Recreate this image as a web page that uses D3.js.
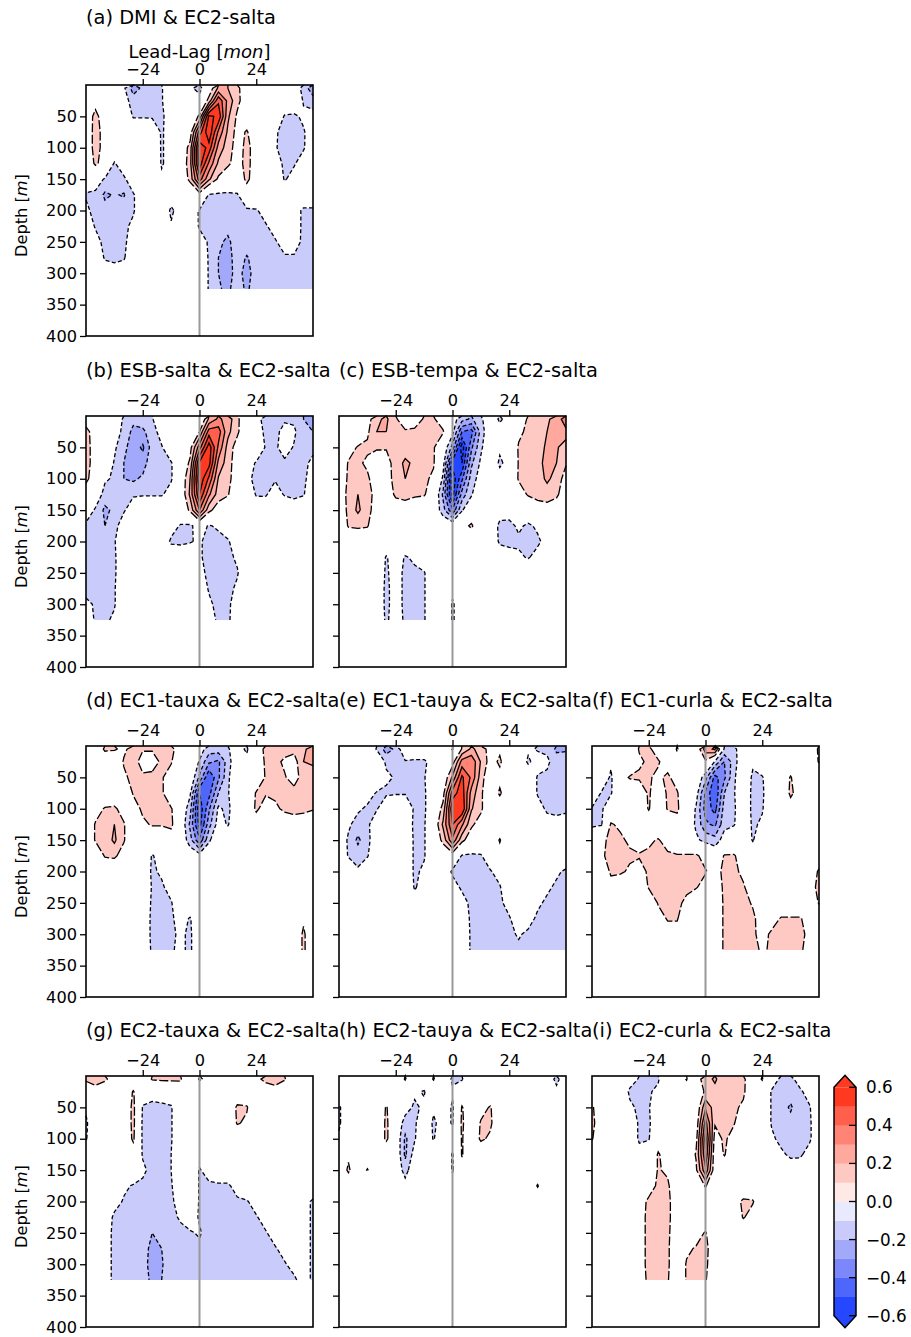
<!DOCTYPE html>
<html>
<head>
<meta charset="utf-8">
<script src="https://cdn.jsdelivr.net/npm/d3@7"></script>
<style>
  body { margin: 0; background: #fff; }
  svg text { font-family: "DejaVu Sans", Verdana, sans-serif; fill: #000; }
</style>
</head>
<body>
<svg id="chart" width="911" height="1337"></svg>
<script>
//	grid of the lag correlation: lead-lag in months, depth in m
var lags = d3.range(-48, 49, 4);
var depths = [5, 25, 50, 75, 100, 125, 150, 175, 200, 225, 250, 275, 300, 325];
var lagTicks = [-24, 0, 24];
var depthTicks = [50, 100, 150, 200, 250, 300, 350, 400];
var cbarTicks = [-0.6, -0.4, -0.2, 0, 0.2, 0.4, 0.6];
var levels = [0.1, 0.2, 0.3, 0.4, 0.5, 0.6];

var titles = [
	"(a) DMI & EC2-salta",
	"(b) ESB-salta & EC2-salta", "(c) ESB-tempa & EC2-salta",
	"(d) EC1-tauxa & EC2-salta", "(e) EC1-tauya & EC2-salta", "(f) EC1-curla & EC2-salta",
	"(g) EC2-tauxa & EC2-salta", "(h) EC2-tauya & EC2-salta", "(i) EC2-curla & EC2-salta"
];

//	correlation x100, one row per depth, one column per lag
var corrA = [
	[0,0,0,0,-8,-25,-18,-12,-11,0,0,-8,-14,2,22,20,12,4,0,0,0,0,0,-15,-26],
	[0,6,0,0,-5,-15,-13,-12,-11,0,0,-2,-5,14,48,27,13,3,0,0,0,0,0,-11,-16],
	[3,13,4,0,0,-11,-11,-11,-12,-4,0,0,12,62,58,22,8,3,0,0,0,-11,-12,-8,-5],
	[2,14,6,0,0,0,0,-3,-11,-6,0,4,45,68,38,18,6,11,2,0,-8,-15,-14,-11,-4],
	[2,14,6,0,0,0,0,-2,-11,-6,0,14,68,56,26,15,5,13,5,0,-9,-14,-13,-11,-3],
	[0,12,5,-11,-3,0,0,0,-11,-6,0,16,66,38,18,12,5,14,3,0,-5,-12,-11,-5,0],
	[-3,-5,-11,-13,-12,-3,0,0,-8,-3,0,13,45,22,8,2,0,13,2,0,0,-11,-6,0,0],
	[-11,-12,-22,-19,-21,-11,-3,0,0,-4,-2,-3,4,-11,-12,-12,-11,2,0,0,0,-3,0,0,0],
	[-8,-13,-16,-15,-15,-11,-3,0,0,-12,-5,-4,-11,-13,-15,-15,-14,-12,-11,-6,-3,-2,-5,-12,-12],
	[-3,-11,-14,-14,-12,-8,0,0,0,-9,-3,-3,-11,-12,-16,-17,-13,-12,-12,-11,-6,-3,-5,-12,-12],
	[0,-6,-13,-14,-12,-5,0,0,0,-3,0,0,-6,-11,-18,-22,-15,-14,-13,-12,-11,-6,-6,-12,-12],
	[0,-3,-11,-12,-11,-3,0,0,0,0,0,0,-2,-11,-20,-24,-15,-21,-15,-13,-12,-11,-11,-12,-12],
	[0,0,-5,-6,-5,0,0,0,0,0,0,0,0,-11,-20,-24,-16,-24,-15,-14,-13,-12,-12,-12,-12],
	[0,0,-3,-4,-3,0,0,0,0,0,0,0,0,-11,-19,-22,-15,-22,-14,-13,-12,-12,-12,-12,-12]
];
var corrB = [
	[5,0,0,0,-12,-18,-15,-11,0,0,0,0,-5,22,32,26,12,2,-8,-12,-13,-12,-12,-20,-25],
	[13,5,0,0,-15,-22,-22,-15,-5,0,0,0,10,45,45,23,12,0,-5,-12,-14,-5,-8,-18,-20],
	[14,5,0,-8,-18,-24,-32,-15,-11,0,0,6,36,66,38,16,5,0,0,-11,-12,-5,-11,-14,-12],
	[14,5,0,-11,-20,-25,-25,-13,-12,-11,0,12,62,64,27,15,3,-5,-11,-12,-11,-12,-14,-12,-8],
	[12,5,-8,-12,-20,-22,-18,-12,-12,-11,0,20,68,48,19,15,0,-8,-12,-13,-11,-13,-14,-12,-5],
	[5,0,-15,-16,-12,-11,-11,-11,-11,-6,0,22,60,32,15,11,0,0,-11,-11,-5,-11,-12,-11,0],
	[0,-12,-22,-18,-11,-5,0,0,0,0,0,12,40,13,4,0,0,0,-2,-3,0,0,-5,0,0],
	[-13,-16,-20,-13,-5,0,0,0,0,-5,-11,-12,-5,-11,-8,-5,0,0,0,0,0,0,0,0,0],
	[-16,-14,-13,-11,0,0,0,0,0,-12,-12,-11,-8,-15,-14,-11,-5,0,0,0,0,0,0,0,0],
	[-16,-13,-12,-12,0,0,0,0,0,0,-3,0,-8,-15,-16,-13,-8,0,0,0,0,0,0,0,0],
	[-15,-12,-16,-12,0,0,0,0,0,0,0,0,-6,-13,-16,-14,-11,0,0,0,0,0,0,0,0],
	[-13,-11,-15,-11,0,0,0,0,0,0,0,0,-3,-11,-15,-13,-8,0,0,0,0,0,0,0,0],
	[-8,-11,-12,-11,0,0,0,0,0,0,0,0,0,-8,-13,-12,-5,0,0,0,0,0,0,0,0],
	[-5,-11,-12,-8,0,0,0,0,0,0,0,0,0,-5,-12,-12,-3,0,0,0,0,0,0,0,0]
];
var corrC = [
	[0,0,0,5,18,22,11,5,5,11,11,5,-5,-16,-22,-12,-2,-12,-5,5,11,12,18,25,35],
	[0,0,0,8,20,20,12,11,12,14,12,11,-6,-40,-44,-16,0,-5,0,8,12,14,20,22,28],
	[0,5,11,12,12,11,13,15,13,12,11,0,-24,-66,-32,-12,0,-8,0,11,12,15,22,22,12],
	[0,11,12,8,0,5,15,22,18,12,11,-5,-56,-60,-22,-8,0,-12,-6,11,14,16,24,20,11],
	[0,12,14,12,3,5,14,20,15,12,8,-12,-68,-42,-15,-5,0,-5,0,11,14,15,22,16,5],
	[0,14,20,15,5,3,12,13,12,11,3,-22,-64,-26,-11,0,0,0,0,5,11,13,15,12,3],
	[0,13,22,14,4,0,3,5,0,0,0,-16,-38,-11,-2,0,0,-4,-5,0,0,5,5,3,0],
	[0,11,12,11,0,0,0,0,0,0,0,0,0,5,12,0,0,-13,-13,-8,-12,-8,0,0,0],
	[0,0,0,0,0,0,0,0,0,0,0,0,0,0,0,0,0,-12,-13,-12,-14,-12,-6,0,0],
	[0,0,0,0,0,-11,-4,-11,-8,0,0,0,0,0,0,0,0,-2,-5,-8,-11,-6,0,0,0],
	[0,0,0,0,0,-12,-4,-13,-12,-11,0,0,0,0,0,0,0,0,0,0,0,0,0,0,0],
	[0,0,0,0,0,-13,-4,-13,-13,-11,0,0,-8,0,0,0,0,0,0,0,0,0,0,0,0],
	[0,0,0,0,0,-13,-4,-13,-12,-11,0,0,-11,-5,0,0,0,0,0,0,0,0,0,0,0],
	[0,0,0,0,0,-12,-4,-12,-12,-11,0,0,-11,-5,0,0,0,0,0,0,0,0,0,0,0]
];
var corrD = [
	[0,0,12,11,8,14,11,11,12,11,8,0,-5,-15,-15,-11,-5,-12,5,12,13,14,13,18,25],
	[0,0,0,0,11,15,5,5,12,11,0,0,-11,-28,-32,-15,0,-6,0,12,13,8,5,20,22],
	[0,0,0,0,8,13,12,13,11,5,0,0,-22,-50,-32,-12,0,0,0,11,12,11,5,15,14],
	[0,0,0,0,0,11,14,16,12,0,0,-8,-50,-44,-20,-11,0,0,11,11,12,13,14,13,12],
	[0,5,11,12,5,5,12,13,11,11,0,-16,-58,-32,-8,-13,0,0,12,5,8,12,13,12,11],
	[0,11,13,20,11,0,8,11,11,12,0,-22,-54,-24,-5,-11,0,0,3,0,0,3,5,5,0],
	[0,11,14,22,11,0,0,0,0,5,0,-16,-38,-12,0,0,0,0,0,0,0,0,0,0,0],
	[0,0,11,12,5,0,0,-11,-5,0,0,-2,-5,0,5,0,0,0,0,0,0,0,0,0,0],
	[0,0,0,0,0,0,0,-12,-8,0,0,0,0,0,0,0,0,0,0,0,0,0,0,0,0],
	[0,0,0,0,0,0,0,-11,-12,-5,0,0,0,0,0,0,0,0,0,0,0,0,0,0,0],
	[0,0,0,0,0,0,0,-12,-13,-11,0,0,0,0,0,0,0,0,0,0,0,0,0,0,0],
	[0,0,0,0,0,0,0,-13,-14,-12,-5,-11,0,0,0,0,0,0,0,0,0,0,0,8,0],
	[0,0,0,0,0,0,0,-13,-13,-12,-8,-12,0,0,0,0,0,0,0,0,0,0,0,12,0],
	[0,0,0,0,0,0,0,-12,-12,-11,-8,-12,0,0,0,0,0,0,0,0,0,0,0,12,0]
];
var corrE = [
	[0,0,0,0,-11,-25,-18,0,0,0,0,0,-11,11,22,16,5,8,0,0,-8,-11,-12,-22,-22],
	[0,0,0,0,0,-12,-11,-11,-12,-12,-5,0,5,34,38,19,5,12,0,0,-12,-5,-8,-15,-12],
	[0,0,0,0,0,-8,-11,-12,-12,-11,0,0,22,52,38,15,0,6,0,0,0,-11,-12,-12,-11],
	[0,0,0,-5,-11,-12,-11,-11,-12,-12,0,6,45,56,26,12,0,12,0,0,0,-11,-13,-14,-12],
	[0,0,-8,-12,-11,0,0,0,-12,-12,0,13,58,60,21,12,0,0,0,0,0,-5,-12,-13,-12],
	[0,-8,-15,-13,0,0,0,0,-13,-11,0,22,50,32,12,5,0,0,0,0,0,0,-5,-6,-5],
	[0,-12,-22,-14,0,0,0,0,-12,-11,0,13,38,13,3,0,0,11,0,0,0,0,0,0,0],
	[0,-11,-15,-11,0,0,0,0,-12,-11,0,0,3,-11,-12,-11,-2,5,0,0,0,0,0,0,0],
	[0,0,-8,0,0,0,0,0,-12,-8,0,0,-12,-14,-14,-13,-11,-5,0,0,0,0,0,-8,-12],
	[0,0,0,0,0,0,0,0,-11,-6,0,0,-5,-12,-15,-14,-12,-11,0,0,0,0,-8,-12,-13],
	[0,0,0,0,0,0,0,0,-6,0,0,0,0,-5,-13,-15,-14,-12,-6,0,0,-8,-12,-13,-13],
	[0,0,0,0,0,0,0,0,0,0,0,0,0,-3,-12,-15,-15,-13,-11,-4,-6,-12,-13,-14,-14],
	[0,0,0,0,0,0,0,0,0,0,0,0,0,0,-12,-14,-15,-14,-12,-9,-12,-12,-13,-14,-14],
	[0,0,0,0,0,0,0,0,0,0,0,0,0,0,-12,-13,-14,-14,-13,-12,-12,-12,-12,-13,-13]
];
var corrF = [
	[0,0,0,0,0,11,12,5,0,11,0,0,25,32,-12,-12,-5,0,0,0,0,0,0,0,12],
	[0,0,-8,0,0,8,12,11,5,6,0,0,8,-11,-30,-15,0,-8,0,0,0,0,0,0,11],
	[0,0,-12,5,11,12,11,8,12,5,0,0,-16,-44,-32,-12,0,-12,-11,0,0,11,0,0,0],
	[0,-11,-11,0,0,0,12,0,12,11,0,-5,-32,-50,-20,-11,0,-13,-12,0,0,12,5,0,0],
	[-11,-12,0,0,0,0,11,0,11,12,0,-11,-34,-44,-15,-12,0,-13,-11,0,0,5,0,0,0],
	[-12,-11,11,8,0,0,0,0,0,5,0,-12,-28,-32,-13,-11,0,-12,-8,0,0,0,0,0,0],
	[0,5,15,12,8,5,8,11,5,0,0,-8,-13,-16,-5,0,0,-11,0,0,0,0,0,0,0],
	[0,8,14,13,12,11,12,12,12,11,11,12,5,0,11,11,5,0,0,0,0,0,0,0,0],
	[0,0,12,12,8,5,12,13,12,13,12,12,11,5,13,12,8,0,0,0,0,0,0,0,12],
	[0,0,5,0,0,0,11,12,13,12,12,11,5,0,13,13,11,5,0,0,0,0,0,5,13],
	[0,0,0,0,0,0,0,11,12,12,8,0,0,0,12,13,13,9,3,0,0,0,0,0,11],
	[0,0,0,0,0,0,0,5,11,11,0,0,0,0,12,13,13,12,5,5,11,11,11,5,0],
	[0,0,0,0,0,0,0,0,5,5,0,0,0,0,12,12,13,12,6,12,12,12,12,8,0],
	[0,0,0,0,0,0,0,0,0,0,0,0,0,0,12,12,12,12,9,11,12,12,12,5,0]
];
var corrG = [
	[11,12,12,5,0,0,0,11,12,12,11,0,-11,-8,0,0,0,0,8,12,12,11,0,0,0],
	[5,8,0,0,0,11,-3,-5,-5,-3,5,0,0,0,0,0,0,0,0,5,8,0,0,0,0],
	[-8,0,0,-8,0,13,-11,-13,-12,-11,0,0,0,0,0,0,12,11,0,0,0,0,0,0,0],
	[-12,0,0,0,0,13,-12,-13,-12,-11,0,0,0,0,0,0,11,8,0,0,0,0,0,0,0],
	[-11,0,0,0,0,12,-12,-15,-12,-11,0,0,0,0,0,0,0,0,0,0,0,0,0,0,0],
	[0,0,0,0,0,3,-11,-14,-12,-10,0,0,-5,0,0,0,0,0,0,0,0,0,0,0,0],
	[0,0,0,0,0,0,-8,-13,-12,-10,-3,0,-11,-5,0,0,0,0,0,0,0,8,0,0,0],
	[0,0,0,-5,-8,-11,-12,-13,-12,-11,-2,0,-11,-12,-12,-12,-5,0,0,0,0,0,0,0,0],
	[0,0,0,-6,-11,-12,-13,-14,-13,-12,-5,0,-11,-13,-14,-13,-12,-11,-5,0,0,0,0,-5,-12],
	[0,0,-3,-12,-12,-13,-13,-15,-14,-12,-9,-5,-11,-13,-15,-14,-13,-12,-11,-5,0,0,0,-5,-12],
	[0,0,-6,-12,-12,-14,-16,-20,-18,-13,-12,-11,-9,-14,-15,-14,-13,-12,-12,-11,-5,0,0,-5,-12],
	[0,0,-6,-12,-12,-14,-17,-22,-20,-14,-12,-12,-12,-14,-15,-14,-13,-12,-12,-12,-11,-6,0,-5,-12],
	[0,0,-6,-12,-12,-14,-17,-23,-21,-14,-12,-12,-12,-14,-14,-13,-13,-12,-12,-12,-12,-11,-6,-5,-12],
	[0,0,-6,-12,-12,-13,-16,-22,-20,-13,-12,-12,-12,-13,-13,-13,-12,-12,-12,-12,-12,-12,-12,-5,-12]
];
var corrH = [
	[0,0,0,0,0,0,0,11,0,0,11,0,-12,-11,0,0,0,0,0,0,0,0,-5,-12,-5],
	[0,0,0,0,0,0,0,0,-8,-11,0,0,-8,0,0,0,0,0,0,0,0,0,0,-8,0],
	[-12,0,0,0,0,11,0,-5,-12,-8,-8,0,-12,11,0,6,11,0,0,0,0,0,0,0,0],
	[-12,0,0,0,0,12,0,-15,-12,0,-12,-5,-11,12,0,11,12,0,0,0,0,0,0,0,0],
	[-8,0,0,0,0,12,0,-22,-11,0,-11,0,-5,11,0,12,8,0,0,0,0,0,0,0,0],
	[0,8,0,0,0,0,0,-22,-5,0,0,0,-11,11,0,0,0,0,0,0,0,0,0,0,0],
	[0,12,0,-11,0,0,0,-15,0,0,0,0,-11,5,0,0,0,0,0,0,0,0,0,0,0],
	[0,0,0,0,0,0,0,-5,0,0,0,0,-5,0,0,0,0,0,0,0,0,11,0,0,0],
	[0,0,0,0,0,0,0,0,0,0,0,0,0,0,0,0,0,0,0,0,0,0,0,0,0],
	[0,0,0,0,0,0,0,0,0,0,0,0,0,0,0,0,0,0,0,0,0,0,0,0,0],
	[0,0,0,0,0,0,0,0,0,0,0,0,0,0,0,0,0,0,0,0,0,0,0,0,0],
	[0,0,0,0,0,0,0,0,0,0,0,0,0,0,0,0,0,0,0,0,0,0,0,0,0],
	[0,0,0,0,0,0,0,0,0,0,0,0,0,0,0,0,0,0,0,0,0,0,0,0,0],
	[0,0,0,0,0,0,0,0,0,0,0,0,0,0,0,0,0,0,0,0,0,0,0,0,0]
];
var corrI = [
	[0,0,0,0,-5,-11,-12,-11,0,0,-11,5,15,22,12,15,12,2,11,-5,-12,-13,-5,0,0],
	[0,0,0,0,-12,-12,-11,-8,0,0,0,0,12,16,11,20,12,0,0,-11,-13,-14,-12,-5,0],
	[12,0,0,0,-8,-12,-11,0,0,0,0,0,28,15,12,12,8,0,0,-11,-14,-22,-11,-11,0],
	[12,5,0,0,0,-12,-12,0,0,0,0,2,44,11,12,11,0,0,0,-11,-14,-15,-13,-12,0],
	[11,0,0,0,0,-12,-11,5,0,0,0,6,54,5,12,5,0,0,0,-8,-13,-14,-13,-12,0],
	[0,0,0,0,0,-5,0,11,5,0,0,11,48,2,11,0,0,0,0,0,-8,-12,-12,-5,0],
	[0,0,0,0,0,0,0,11,8,0,0,8,38,2,0,0,0,0,0,0,0,-4,-3,0,0],
	[0,0,0,0,0,0,5,12,12,0,0,0,11,0,0,0,0,0,0,0,0,0,0,0,0],
	[0,0,0,0,0,5,12,13,12,5,0,0,0,0,0,5,12,11,0,0,0,0,0,0,0],
	[0,0,0,0,0,5,13,13,12,5,0,0,0,0,0,0,11,5,0,0,0,0,0,0,0],
	[0,0,0,0,0,5,13,13,12,3,0,5,11,0,0,0,0,0,0,0,0,0,0,0,0],
	[0,0,0,0,0,5,13,13,12,0,8,11,12,5,0,0,0,0,0,0,0,0,0,0,0],
	[0,0,0,0,0,5,13,13,12,0,11,12,12,3,0,0,0,0,0,0,0,0,0,0,0],
	[0,0,0,0,0,5,12,12,11,0,11,12,11,0,0,0,0,0,0,0,0,0,0,0,0]
];
var corr = [corrA, corrB, corrC, corrD, corrE, corrF, corrG, corrH, corrI];
var panelCol = [0, 0, 1, 0, 1, 2, 0, 1, 2];
var panelRow = [0, 1, 1, 2, 2, 2, 3, 3, 3];

//	colours of the bands, from -0.6 up to 0.6 (step 0.1)
var bandColors = ["#2447ff", "#4f66fd", "#7b87fb", "#a3a9fa", "#c9ccfb", "#e9eafd",
	"#ffe9e7", "#ffc9c3", "#ffa89e", "#ff8475", "#ff5f4b", "#ff3a20"];
//	filled colours for |r| >= level (below 0.1 is left white)
var posColors = ["#ffc9c3", "#ffa89e", "#ff8475", "#ff5f4b", "#ff3a20", "#ff3a20"];
var negColors = ["#c9ccfb", "#a3a9fa", "#7b87fb", "#4f66fd", "#2447ff", "#2447ff"];

var svg = d3.select("#chart");
var colLeft = [86, 339, 592], rowTop = [85, 416, 746, 1076];
var W = 227, H = 251;
var nx = lags.length, ny = depths.length;
var lagOf = d3.scaleLinear().domain([0, nx - 1]).range([lags[0], lags[nx - 1]]);
var depthOf = d3.scaleLinear().domain([-0.5].concat(d3.range(ny))).range([0].concat(depths));
var contours = d3.contours().size([nx, ny]);
var fmt = d3.format("d");

function drawPanel(k) {
	var x0 = colLeft[panelCol[k]], y0 = rowTop[panelRow[k]];
	var x = d3.scaleLinear().domain([-48, 48]).range([x0, x0 + W]);
	var y = d3.scaleLinear().domain([0, 400]).range([y0, y0 + H]);

	//	grid coordinate -> pixel
	function pt(px, py) {
		var i = Math.max(0, Math.min(nx - 1, px - 0.5));
		var j = Math.max(-0.5, Math.min(ny - 1, py - 0.5));
		return [x(lagOf(i)), y(depthOf(j))];
	}
	var path = d3.geoPath(d3.geoTransform({
		point: function(px, py) { var p = pt(px, py); this.stream.point(p[0], p[1]); }
	}));
	//	contour lines without the parts that run on the edge of the data
	function linePath(mp) {
		var d = "";
		mp.coordinates.forEach(function(poly) {
			poly.forEach(function(ring) {
				var pen = false;
				for (var m = 1; m < ring.length; m++) {
					var a = ring[m - 1], b = ring[m];
					var edge = (a[0] <= 0.5 && b[0] <= 0.5) || (a[0] >= nx - 0.5 && b[0] >= nx - 0.5) ||
						(a[1] === 0 && b[1] === 0) || (a[1] >= ny - 0.5 && b[1] >= ny - 0.5);
					if (edge) { pen = false; continue; }
					if (!pen) { var p = pt(a[0], a[1]); d += "M" + p[0].toFixed(2) + "," + p[1].toFixed(2); pen = true; }
					var q = pt(b[0], b[1]);
					d += "L" + q[0].toFixed(2) + "," + q[1].toFixed(2);
				}
			});
		});
		return d;
	}

	var vals = d3.merge(corr[k]).map(function(v) { return v / 100; });
	var neg = vals.map(function(v) { return -v; });

	var g = svg.append("g");
	levels.forEach(function(t, i) {
		g.append("path").attr("d", path(contours.contour(vals, t))).attr("fill", posColors[i]);
		g.append("path").attr("d", path(contours.contour(neg, t))).attr("fill", negColors[i]);
	});
	levels.forEach(function(t, i) {
		g.append("path").attr("d", linePath(contours.contour(vals, t)))
			.attr("fill", "none").attr("stroke", "#000").attr("stroke-width", 1.3)
			.attr("stroke-dasharray", i === 0 ? "9,2.5" : null);
		g.append("path").attr("d", linePath(contours.contour(neg, t)))
			.attr("fill", "none").attr("stroke", "#000").attr("stroke-width", 1.3)
			.attr("stroke-dasharray", "4,2.4");
	});

	//	zero lag
	g.append("line").attr("x1", x(0)).attr("x2", x(0)).attr("y1", y0).attr("y2", y0 + H)
		.attr("stroke", "#999").attr("stroke-width", 2);

	//	axes
	var ax = g.append("g").attr("transform", "translate(0," + y0 + ")")
		.call(d3.axisTop(x).tickValues(lagTicks).tickSize(6).tickPadding(4.5).tickFormat(fmt));
	var ay = g.append("g").attr("transform", "translate(" + x0 + ",0)")
		.call(d3.axisLeft(y).tickValues(depthTicks).tickSize(6).tickPadding(3)
			.tickFormat(panelCol[k] === 0 ? fmt : ""));
	[ax, ay].forEach(function(a) {
		a.select(".domain").remove();
		a.attr("font-size", 16.2).attr("font-family", null);
		a.selectAll("line").attr("stroke-width", 1.3);
	});

	g.append("rect").attr("x", x0).attr("y", y0).attr("width", W).attr("height", H)
		.attr("fill", "none").attr("stroke", "#000").attr("stroke-width", 1.6);

	g.append("text").attr("x", x0).attr("y", panelRow[k] === 0 ? y0 - 61 : y0 - 38.7)
		.attr("font-size", 19.4).text(titles[k]);

	if (panelRow[k] === 0) {
		var t = g.append("text").attr("x", x(0)).attr("y", y0 - 27)
			.attr("font-size", 18).attr("text-anchor", "middle");
		t.append("tspan").text("Lead-Lag [");
		t.append("tspan").attr("font-style", "italic").text("mon");
		t.append("tspan").text("]");
	}
	if (panelCol[k] === 0) {
		var yl = g.append("text").attr("text-anchor", "middle").attr("font-size", 16.2)
			.attr("transform", "translate(27," + (y0 + H / 2 + 5) + ") rotate(-90)");
		yl.append("tspan").text("Depth [");
		yl.append("tspan").attr("font-style", "italic").text("m");
		yl.append("tspan").text("]");
	}
}

d3.range(corr.length).forEach(drawPanel);

//	colour bar
var cb = svg.append("g");
var cx0 = 834, cw = 22;
var cy = d3.scaleLinear().domain([-0.6, 0.6]).range([1315.7, 1087.3]);
bandColors.forEach(function(c, i) {
	var lo = -0.6 + i * 0.1;
	cb.append("rect").attr("x", cx0).attr("y", cy(lo + 0.1)).attr("width", cw)
		.attr("height", cy(lo) - cy(lo + 0.1) + 0.3).attr("fill", c);
});
cb.append("path").attr("d", "M" + cx0 + "," + cy(0.6) + "L" + (cx0 + cw / 2) + "," + (cy(0.6) - 12) + "L" + (cx0 + cw) + "," + cy(0.6) + "Z")
	.attr("fill", bandColors[11]);
cb.append("path").attr("d", "M" + cx0 + "," + cy(-0.6) + "L" + (cx0 + cw / 2) + "," + (cy(-0.6) + 12) + "L" + (cx0 + cw) + "," + cy(-0.6) + "Z")
	.attr("fill", bandColors[0]);
cb.append("path")
	.attr("d", "M" + cx0 + "," + cy(0.6) + "L" + (cx0 + cw / 2) + "," + (cy(0.6) - 12) + "L" + (cx0 + cw) + "," + cy(0.6) +
		"L" + (cx0 + cw) + "," + cy(-0.6) + "L" + (cx0 + cw / 2) + "," + (cy(-0.6) + 12) + "L" + cx0 + "," + cy(-0.6) + "Z")
	.attr("fill", "none").attr("stroke", "#000").attr("stroke-width", 1.5);
cbarTicks.forEach(function(v) {
	cb.append("line").attr("x1", cx0 + cw - 7).attr("x2", cx0 + cw).attr("y1", cy(v)).attr("y2", cy(v))
		.attr("stroke", "#000").attr("stroke-width", 1.3);
	cb.append("text").attr("x", cx0 + cw + 10).attr("y", cy(v)).attr("dy", "0.36em")
		.attr("font-size", 16.8).text(d3.format(".1f")(v));
});
</script>
</body>
</html>
